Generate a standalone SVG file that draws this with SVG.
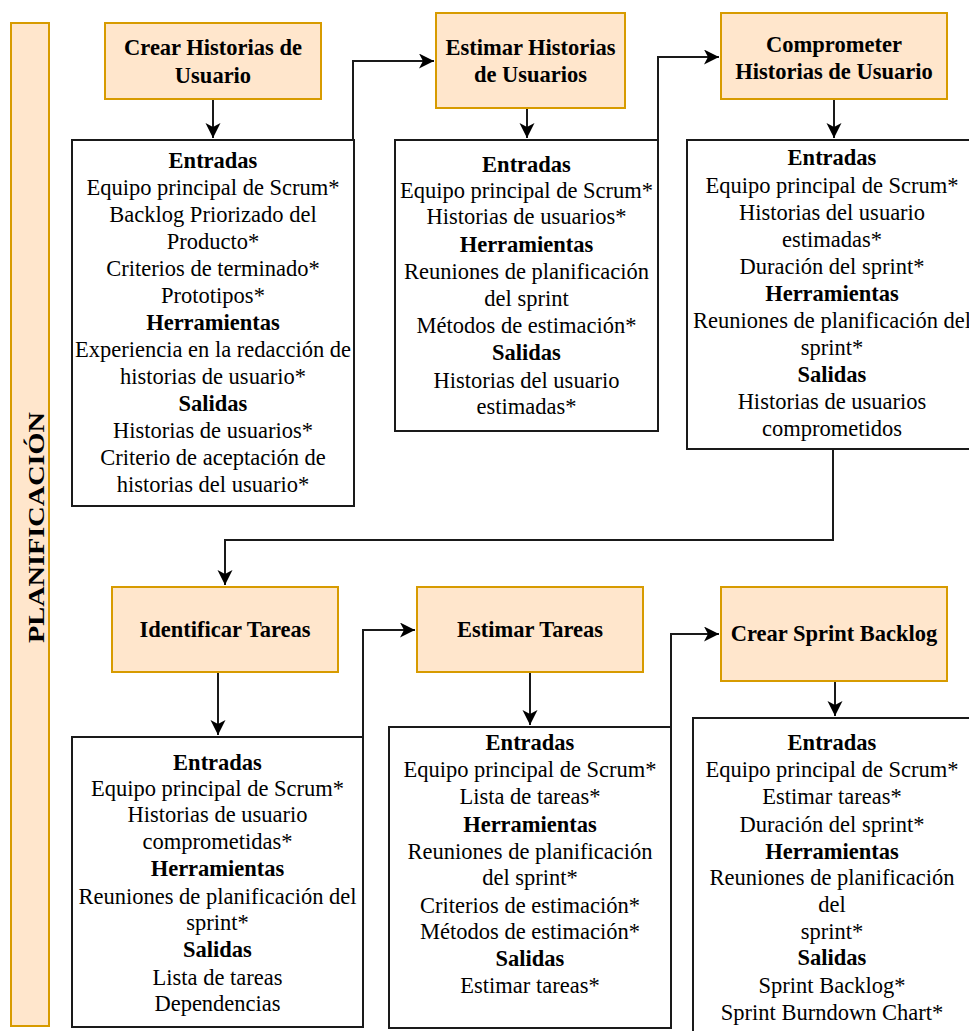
<svg xmlns="http://www.w3.org/2000/svg" width="969" height="1031" viewBox="0 0 969 1031">
  <style>
    .phase { fill: #ffe6cc; stroke: #d79b00; stroke-width: 2; }
    .box { fill: #ffffff; stroke: #1a1a1a; stroke-width: 2; }
    .t { font-family: "Liberation Serif", "Times New Roman", serif; font-size: 22.5px; fill: #000; text-anchor: middle; }
    .b { font-weight: bold; }
    .wire { fill: none; stroke: #1a1a1a; stroke-width: 2; }
  </style>
  <defs>
    <marker id="arrow" markerUnits="userSpaceOnUse" markerWidth="16" markerHeight="16" refX="15" refY="7.5" orient="auto">
      <path d="M0,0 L15,7.5 L0,15 L4,7.5 Z" fill="#000"/>
    </marker>
  </defs>
  <rect width="969" height="1031" fill="#ffffff"/>

  <!-- Phase label -->
  <g id="phase-label">
    <rect class="phase" x="11" y="23" width="38" height="1003"/>
    <text class="t b" transform="translate(44,527.5) rotate(-90)" textLength="231" lengthAdjust="spacingAndGlyphs">PLANIFICACIÓN</text>
  </g>

  <!-- Connectors -->
  <g id="connectors">
    <path class="wire" d="M213,99 V138" marker-end="url(#arrow)"/>
    <path class="wire" d="M353,140 V61 H434" marker-end="url(#arrow)"/>
    <path class="wire" d="M527,108 V138" marker-end="url(#arrow)"/>
    <path class="wire" d="M658,140 V57 H719" marker-end="url(#arrow)"/>
    <path class="wire" d="M834,99 V138" marker-end="url(#arrow)"/>
    <path class="wire" d="M833,449 V540 H225 V585" marker-end="url(#arrow)"/>
    <path class="wire" d="M218,672 V735" marker-end="url(#arrow)"/>
    <path class="wire" d="M363,737 V630 H415" marker-end="url(#arrow)"/>
    <path class="wire" d="M530,672 V725" marker-end="url(#arrow)"/>
    <path class="wire" d="M671,727 V634 H719" marker-end="url(#arrow)"/>
    <path class="wire" d="M835,681 V716" marker-end="url(#arrow)"/>
  </g>

  <!-- Step 1 -->
  <g id="crear-historias">
    <rect class="phase" x="105" y="23" width="216" height="76"/>
    <text class="t b" x="213" y="55">Crear Historias de</text>
    <text class="t b" x="213" y="83">Usuario</text>
  </g>
  <g id="crear-historias-detalle">
    <rect class="box" x="72" y="140" width="282" height="366"/>
    <text class="t b" x="213" y="168">Entradas</text>
    <text class="t" x="213" y="195">Equipo principal de Scrum*</text>
    <text class="t" x="213" y="222">Backlog Priorizado del</text>
    <text class="t" x="213" y="249">Producto*</text>
    <text class="t" x="213" y="276">Criterios de terminado*</text>
    <text class="t" x="213" y="303">Prototipos*</text>
    <text class="t b" x="213" y="330">Herramientas</text>
    <text class="t" x="213" y="357">Experiencia en la redacción de</text>
    <text class="t" x="213" y="384">historias de usuario*</text>
    <text class="t b" x="213" y="411">Salidas</text>
    <text class="t" x="213" y="438">Historias de usuarios*</text>
    <text class="t" x="213" y="465">Criterio de aceptación de</text>
    <text class="t" x="213" y="492">historias del usuario*</text>
  </g>

  <!-- Step 2 -->
  <g id="estimar-historias">
    <rect class="phase" x="436" y="13" width="189" height="95"/>
    <text class="t b" x="530.5" y="55">Estimar Historias</text>
    <text class="t b" x="530.5" y="82">de Usuarios</text>
  </g>
  <g id="estimar-historias-detalle">
    <rect class="box" x="395" y="140" width="263" height="291"/>
    <text class="t b" x="526.5" y="172">Entradas</text>
    <text class="t" x="526.5" y="198">Equipo principal de Scrum*</text>
    <text class="t" x="526.5" y="224">Historias de usuarios*</text>
    <text class="t b" x="526.5" y="252">Herramientas</text>
    <text class="t" x="526.5" y="279">Reuniones de planificación</text>
    <text class="t" x="526.5" y="306">del sprint</text>
    <text class="t" x="526.5" y="333">Métodos de estimación*</text>
    <text class="t b" x="526.5" y="360">Salidas</text>
    <text class="t" x="526.5" y="388">Historias del usuario</text>
    <text class="t" x="526.5" y="414">estimadas*</text>
  </g>

  <!-- Step 3 -->
  <g id="comprometer-historias">
    <rect class="phase" x="721" y="13" width="226" height="86"/>
    <text class="t b" x="834" y="52">Comprometer</text>
    <text class="t b" x="834" y="79">Historias de Usuario</text>
  </g>
  <g id="comprometer-historias-detalle">
    <rect class="box" x="687" y="140" width="290" height="309"/>
    <text class="t b" x="832" y="165">Entradas</text>
    <text class="t" x="832" y="193">Equipo principal de Scrum*</text>
    <text class="t" x="832" y="220">Historias del usuario</text>
    <text class="t" x="832" y="247">estimadas*</text>
    <text class="t" x="832" y="274">Duración del sprint*</text>
    <text class="t b" x="832" y="301">Herramientas</text>
    <text class="t" x="832" y="328">Reuniones de planificación del</text>
    <text class="t" x="832" y="355">sprint*</text>
    <text class="t b" x="832" y="382">Salidas</text>
    <text class="t" x="832" y="409">Historias de usuarios</text>
    <text class="t" x="832" y="436">comprometidos</text>
  </g>

  <!-- Step 4 -->
  <g id="identificar-tareas">
    <rect class="phase" x="112" y="587" width="226" height="85"/>
    <text class="t b" x="225" y="637">Identificar Tareas</text>
  </g>
  <g id="identificar-tareas-detalle">
    <rect class="box" x="72" y="737" width="291" height="290"/>
    <text class="t b" x="217.5" y="770">Entradas</text>
    <text class="t" x="217.5" y="796">Equipo principal de Scrum*</text>
    <text class="t" x="217.5" y="822">Historias de usuario</text>
    <text class="t" x="217.5" y="849">comprometidas*</text>
    <text class="t b" x="217.5" y="876">Herramientas</text>
    <text class="t" x="217.5" y="904">Reuniones de planificación del</text>
    <text class="t" x="217.5" y="930">sprint*</text>
    <text class="t b" x="217.5" y="957">Salidas</text>
    <text class="t" x="217.5" y="985">Lista de tareas</text>
    <text class="t" x="217.5" y="1011">Dependencias</text>
  </g>

  <!-- Step 5 -->
  <g id="estimar-tareas">
    <rect class="phase" x="417" y="587" width="226" height="85"/>
    <text class="t b" x="530" y="637">Estimar Tareas</text>
  </g>
  <g id="estimar-tareas-detalle">
    <rect class="box" x="389" y="727" width="282" height="301"/>
    <text class="t b" x="530" y="750">Entradas</text>
    <text class="t" x="530" y="777">Equipo principal de Scrum*</text>
    <text class="t" x="530" y="804">Lista de tareas*</text>
    <text class="t b" x="530" y="832">Herramientas</text>
    <text class="t" x="530" y="859">Reuniones de planificación</text>
    <text class="t" x="530" y="885">del sprint*</text>
    <text class="t" x="530" y="913">Criterios de estimación*</text>
    <text class="t" x="530" y="939">Métodos de estimación*</text>
    <text class="t b" x="530" y="966">Salidas</text>
    <text class="t" x="530" y="993">Estimar tareas*</text>
  </g>

  <!-- Step 6 -->
  <g id="crear-sprint-backlog">
    <rect class="phase" x="721" y="587" width="226" height="94"/>
    <text class="t b" x="834" y="641">Crear Sprint Backlog</text>
  </g>
  <g id="crear-sprint-backlog-detalle">
    <rect class="box" x="693" y="718" width="284" height="330"/>
    <text class="t b" x="832" y="750">Entradas</text>
    <text class="t" x="832" y="777">Equipo principal de Scrum*</text>
    <text class="t" x="832" y="804">Estimar tareas*</text>
    <text class="t" x="832" y="832">Duración del sprint*</text>
    <text class="t b" x="832" y="859">Herramientas</text>
    <text class="t" x="832" y="885">Reuniones de planificación</text>
    <text class="t" x="832" y="912">del</text>
    <text class="t" x="832" y="939">sprint*</text>
    <text class="t b" x="832" y="965">Salidas</text>
    <text class="t" x="832" y="993">Sprint Backlog*</text>
    <text class="t" x="832" y="1020">Sprint Burndown Chart*</text>
  </g>
</svg>
